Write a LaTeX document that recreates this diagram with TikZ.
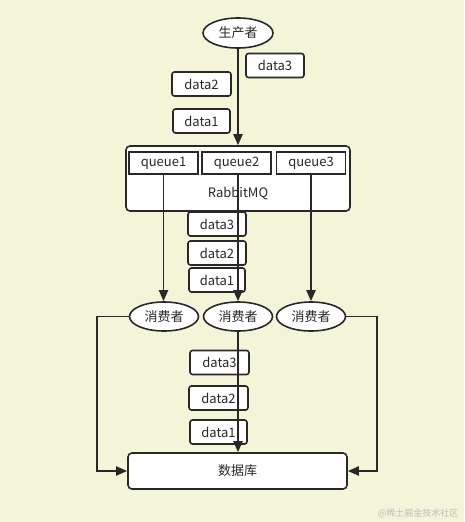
\documentclass[tikz,border=0pt]{standalone}
\usepackage{fontspec}
\setmainfont{Noto Sans CJK SC}
\usetikzlibrary{arrows.meta,shapes.geometric}
\definecolor{bg}{RGB}{243,244,216}
\definecolor{ink}{RGB}{40,40,40}
\definecolor{wm}{RGB}{190,190,190}
\tikzset{
  every node/.style={font=\fontsize{13}{15}\selectfont, text=ink},
  datab/.style={draw=ink, line width=1.6pt, fill=white, rounded corners=2.5pt, minimum width=58pt, minimum height=24pt, inner sep=0pt},
  qbox/.style={draw=ink, line width=1.6pt, fill=white, minimum width=69pt, minimum height=22pt, inner sep=0pt},
  bigbox/.style={draw=ink, line width=1.6pt, fill=white, rounded corners=4pt, inner sep=0pt},
  oval/.style={ellipse, draw=ink, line width=1.6pt, fill=white, minimum width=70pt, minimum height=30pt, inner sep=0pt},
  conn/.style={draw=ink, line width=1.9pt, -{Triangle[length=11pt,width=9pt]}},
  plain/.style={draw=ink, line width=1.9pt}
}
\begin{document}
\begin{tikzpicture}[x=1pt,y=-1pt]
\fill[bg] (0,0) rectangle (464,522);
\useasboundingbox (0,0) rectangle (464,522);
% producer
\node[oval] (prod) at (238,33) {生产者};
\node[datab] (p3) at (275,65.5) {data3};
\node[datab, minimum width=59pt] (p2) at (201.5,84) {data2};
\node[datab, minimum width=57pt] (p1) at (201.5,121) {data1};
% RabbitMQ
\node[bigbox, minimum width=224pt, minimum height=65pt] (mq) at (238,178.5) {};
\node (mqt) at (238,194) {RabbitMQ};
\node[qbox] (q1) at (163.5,163) {queue1};
\node[qbox] (q2) at (236.5,163) {queue2};
\node[qbox] (q3) at (311,163) {queue3};
% middle data
\node[datab] (m3) at (217,224) {data3};
\node[datab] (m2) at (217,253) {data2};
\node[datab, minimum width=56pt] (m1) at (217,280) {data1};
% consumers
\node[oval, minimum width=69pt, minimum height=29pt] (c1) at (164,316.5) {消费者};
\node[oval, minimum width=69pt, minimum height=29pt] (c2) at (238,316.5) {消费者};
\node[oval, minimum width=69pt, minimum height=29pt] (c3) at (311,316.5) {消费者};
% lower data
\node[datab, minimum width=59pt] (l3) at (219.5,362.5) {data3};
\node[datab, minimum width=59pt] (l2) at (218.5,398) {data2};
\node[datab, minimum width=57pt] (l1) at (218.5,432) {data1};
% database
\node[bigbox, minimum width=219pt, minimum height=36pt] (db) at (237.5,471) {数据库};
\coordinate (L) at (97,471);
\coordinate (R) at (377,471);
% connectors
\draw[conn] (prod.south) -- (prod.south |- mq.north);
\draw[conn] (q1.south) -- (q1.south |- c1.north);
\draw[conn] (q2.south -| c2.north) -- (c2.north);
\draw[conn] (q3.south) -- (q3.south |- c3.north);
\draw[conn] (c2.south) -- (c2.south |- db.north);
\draw[conn] (c1.west) -| (L) -- (db.west);
\draw[conn] (c3.east) -| (R) -- (db.east);
% watermark
\node[font=\fontsize{9}{10}\selectfont, text=wm, anchor=east] (wmk) at (462,513) {@稀土掘金技术社区};
\end{tikzpicture}
\end{document}
